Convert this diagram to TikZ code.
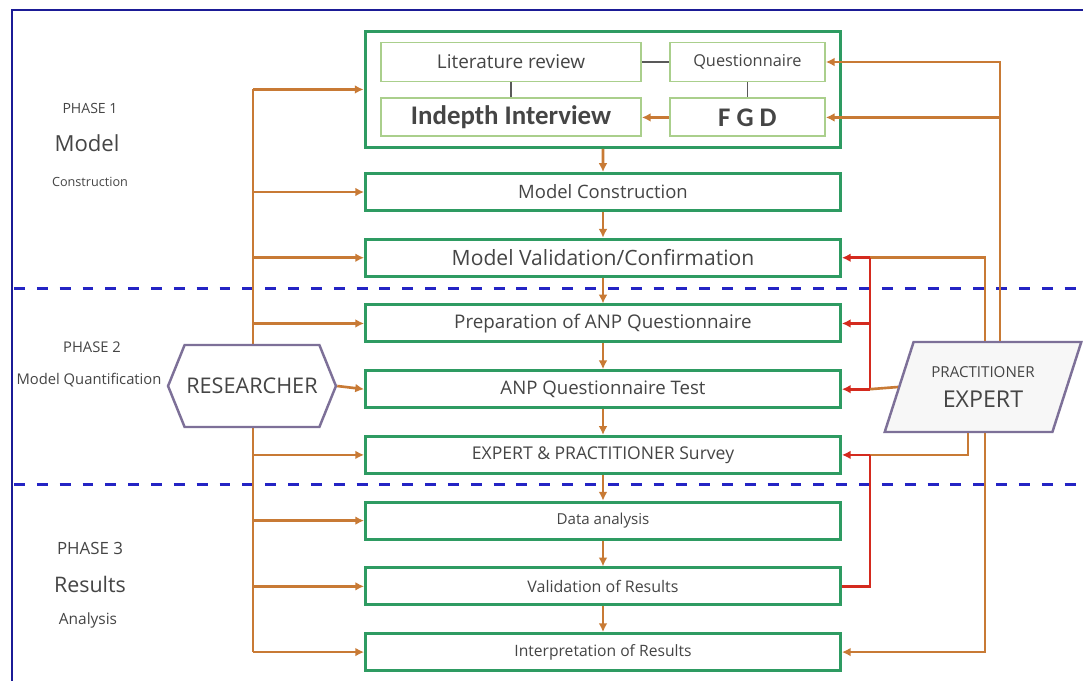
\documentclass[tikz,border=0pt]{standalone}
\usepackage{fontspec}
\setmainfont{Open Sans}
\newfontfamily\heavyfont{Carlito}
\usepackage{xcolor}
\usetikzlibrary{arrows.meta,positioning,shapes.geometric,shapes.symbols,fit}

\definecolor{boxgreen}{HTML}{2E9B62}
\definecolor{subgreen}{HTML}{AACF8C}
\definecolor{flow}{HTML}{C87A35}
\definecolor{fbred}{HTML}{D42A1E}
\definecolor{phaseblue}{HTML}{2424C4}
\definecolor{framecol}{HTML}{1B1B96}
\definecolor{actor}{HTML}{7D7098}
\definecolor{txt}{HTML}{454545}

\begin{document}
\begin{tikzpicture}[x=0.02cm, y=-0.02cm, node distance=0.515cm, every node/.style={text=txt}, stage/.style={draw=boxgreen,line width=1.7pt,minimum width=9.5cm,minimum height=0.74cm,inner sep=0pt}, sub/.style={draw=subgreen,line width=1.1pt,minimum height=0.76cm,inner sep=0pt}, arr/.style={-{Latex[length=5pt,width=5pt]},flow,line width=1.5pt}, fb/.style={-{Latex[length=5pt,width=5pt]},fbred,line width=1.5pt}, flowline/.style={flow,line width=1.5pt}, fbline/.style={fbred,line width=1.5pt}, phase/.style={phaseblue,line width=1.7pt,dash pattern=on 6.2pt off 6.8pt}, hexa/.style={shape=signal,signal to=west and east,signal pointer angle=136,draw=actor,line width=1.4pt,fill=white,minimum width=3.06cm,minimum height=1.64cm,inner sep=1pt}, para/.style={trapezium,trapezium left angle=63.4,trapezium right angle=116.6,trapezium stretches=true,draw=actor,line width=1.4pt,fill=black!3,minimum width=3.94cm,minimum height=1.8cm,align=center,inner sep=1pt}]
\useasboundingbox (0,0) rectangle (1083,681);
\fill[white] (0,0) rectangle (1083,681);

% frame and phase borders
\draw[framecol,line width=1.6pt] (1083,10) -- (12,10) -- (12,681);
\draw[phase] (14,288) -- (1083,288);
\draw[phase] (14,484) -- (1083,484);

% phase labels
\node (ph1) at (90,108) {\fontsize{8}{9}\selectfont PHASE 1};
\node (ph1a) at (87,143) {\fontsize{12.6}{14}\selectfont Model};
\node (ph1b) at (90,182) {\fontsize{7.2}{8}\selectfont Construction};
\node (ph2) at (92,347) {\fontsize{8.4}{9}\selectfont PHASE 2};
\node (ph2a) at (89,380) {\fontsize{8.4}{9}\selectfont Model Quantification};
\node (ph3) at (90,548) {\fontsize{9.6}{11}\selectfont PHASE 3};
\node (ph3a) at (90,584) {\fontsize{12.2}{14}\selectfont Results};
\node (ph3b) at (88,620) {\fontsize{8.8}{10}\selectfont Analysis};

% phase 1 sources
\node[sub,minimum width=5.2cm,minimum height=0.78cm] (lit) at (511,62) {\fontsize{10.8}{12}\selectfont Literature review};
\node[sub,minimum width=3.1cm,minimum height=0.78cm,right=0.54cm of lit] (quest) {\fontsize{9.3}{11}\selectfont Questionnaire};
\node[sub,minimum width=5.2cm,below=0.3cm of lit] (indepth) {\heavyfont\bfseries\fontsize{15.3}{17}\selectfont Indepth Interview};
\node[sub,minimum width=3.1cm,below=0.3cm of quest] (fgd) {\heavyfont\bfseries\fontsize{15.3}{17}\selectfont F G D};
\node[draw=boxgreen,line width=1.7pt,fit=(lit)(fgd),inner xsep=0.3cm,inner ysep=0.2cm] (grp) {};

% main column
\node[stage] (mc) at (603,192) {\fontsize{10.5}{12}\selectfont Model Construction};
\node[stage,below=of mc] (mv) {\fontsize{12}{14}\selectfont Model Validation/Confirmation};
\node[stage,below=of mv] (prep) {\fontsize{10.7}{12}\selectfont Preparation of ANP Questionnaire};
\node[stage,below=of prep] (test) {\fontsize{10.6}{12}\selectfont ANP Questionnaire Test};
\node[stage,below=of test] (surv) {\fontsize{10}{12}\selectfont EXPERT \& PRACTITIONER Survey};
\node[stage,below=of surv] (data) {\fontsize{8.6}{10}\selectfont Data analysis};
\node[stage,below=of data] (valr) {\fontsize{9.1}{11}\selectfont Validation of Results};
\node[stage,below=of valr] (interp) {\fontsize{8.9}{10}\selectfont Interpretation of Results};

\draw[black!65,line width=1pt] (lit) -- (quest);
\draw[black!65,line width=0.7pt] (lit) -- (indepth);
\draw[black!65,line width=0.7pt] (quest) -- (fgd);
\draw[arr] (fgd) -- (indepth);
\foreach \a/\b in {grp/mc,mc/mv,mv/prep,prep/test,test/surv,surv/data,data/valr,valr/interp}
  \draw[arr] (\a.south) -- (\b.north);

% researcher side
\coordinate (bus) at (253,0);
\draw[flowline] (bus |- grp.west) -- (bus |- interp.west);
\foreach \n in {grp,mc,mv,prep,surv,data,valr,interp}
  \draw[arr] (bus |- \n.west) -- (\n.west);
\node[hexa] (res) at (252,386) {\fontsize{12.3}{14}\selectfont RESEARCHER};
\draw[arr] (res.east) -- (test.west);

% expert side
\node[para] (pe) at (983,387) {\fontsize{8.6}{10}\selectfont PRACTITIONER\\[5pt]\fontsize{13.2}{15}\selectfont EXPERT};
\coordinate (rA) at (1000,0);
\coordinate (rB) at (985,0);
\coordinate (rC) at (968,0);
\coordinate (rD) at (870,0);
\draw[arr] (rA |- pe.north) |- (quest.east);
\draw[arr] (rA |- fgd.east) -- (fgd.east);
\draw[flowline] (rB |- pe.north) |- (rD |- mv.east);
\draw[fbline] (rD |- mv.east) -- (rD |- test.east);
\draw[fb] (rD |- mv.east) -- (mv.east);
\draw[fb] (rD |- prep.east) -- (prep.east);
\draw[flowline] (pe.west) -- (rD |- test.east);
\draw[fb] (rD |- test.east) -- (test.east);
\draw[flowline] (rC |- pe.south) |- (rD |- surv.east);
\draw[fbline] (valr.east) -| (rD |- surv.east);
\draw[fb] (rD |- surv.east) -- (surv.east);
\draw[arr] (rB |- pe.south) |- (interp.east);
\end{tikzpicture}
\end{document}
